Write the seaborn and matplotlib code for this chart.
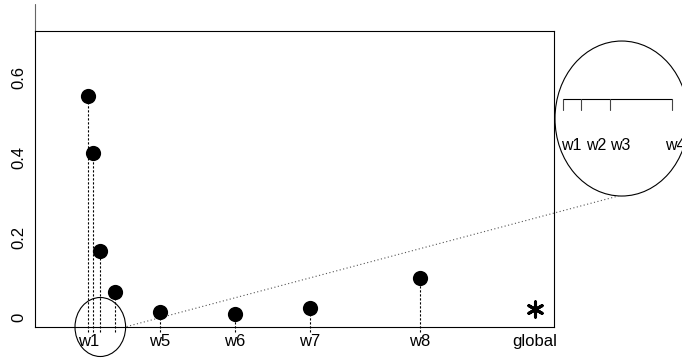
import matplotlib
matplotlib.use("Agg")
import matplotlib.pyplot as plt
from matplotlib.patches import Ellipse
import seaborn as sns
import pandas as pd

# ---- data ----
window_labels = ["w1", "w2", "w3", "w4", "w5", "w6", "w7", "w8"]
window_pos = [53.3, 57.7, 65.0, 80.0, 125.0, 200.0, 275.0, 385.0]
window_vals = [0.553, 0.412, 0.166, 0.062, 0.012, 0.007, 0.022, 0.098]
global_label = "global"
global_pos = 500.0
global_val = 0.021
xtick_labels = ["w1", "w5", "w6", "w7", "w8", "global"]
ytick_vals = [0.0, 0.2, 0.4, 0.6]
inset_labels = ["w1", "w2", "w3", "w4"]
inset_label_x = [536.0, 561.0, 585.5, 640.5]

sns.set_style("white")
plt.rcParams['font.family'] = ['Liberation Sans', 'DejaVu Sans']
plt.rcParams['axes.linewidth'] = 0.8
for k in ["text.color", "axes.labelcolor", "xtick.color", "ytick.color", "axes.edgecolor"]:
    plt.rcParams[k] = "black"

fig = plt.figure(figsize=(6.82, 3.63), dpi=100)
ax = fig.add_axes([35/682, 1-327/363, (554-35)/682, (327-31)/363])

XMIN, XMAX = 0.0, 519.0
YMIN, YMAX = -0.0246, 0.716
ax.set_xlim(XMIN, XMAX)
ax.set_ylim(YMIN, YMAX)

df = pd.DataFrame({"pos": window_pos, "val": window_vals, "lab": window_labels})

# dotted drop lines
ax.vlines(df["pos"], YMIN - 0.012, df["val"], colors="black",
          linestyles=(0, (2, 1.6)), linewidth=0.8, clip_on=False, zorder=2)

sns.scatterplot(data=df, x="pos", y="val", ax=ax, s=120, color="black",
                edgecolor="black", linewidth=0, zorder=3, legend=False)

gdf = pd.DataFrame({"pos": [global_pos], "val": [global_val]})
sns.scatterplot(data=gdf, x="pos", y="val", ax=ax, marker=(6, 2, 0), s=120,
                color="black", edgecolor="black", linewidth=2.2, zorder=3,
                legend=False)

# ticks
xt = [window_pos[0]] + window_pos[4:] + [global_pos]
ax.set_xticks(xt)
ax.set_xticklabels(xtick_labels, fontsize=12)
ax.set_yticks(ytick_vals)
ax.set_yticklabels(["0", "0.2", "0.4", "0.6"], rotation=90, va="center", fontsize=12)
ax.tick_params(axis="both", direction="out", length=4, width=0.8, color="#555555",
               labelcolor="black")
ax.tick_params(axis="x", pad=1)
ax.tick_params(axis="y", pad=2)
ax.set_xlabel("")
ax.set_ylabel("")
for s in ax.spines.values():
    s.set_color("black")
    s.set_linewidth(0.8)

# left axis line extended above box
ax.plot([0, 0], [1, 1.091], transform=ax.transAxes, color="#666666",
        linewidth=0.8, clip_on=False)

# small ellipse around w1..w4
px_y = (YMAX - YMIN) / 296.0  # y data per pixel
small_cx = 65.3
ax.add_patch(Ellipse((small_cx, YMIN), 50.6, 59 * px_y, fill=False,
                     edgecolor="black", linewidth=0.8, clip_on=False, zorder=4))

# large ellipse (magnified view)
big_cx, big_cy = 586.7, 0.497
big_w, big_h = 133.4, 155 * px_y
ax.add_patch(Ellipse((big_cx, big_cy), big_w, big_h, fill=False,
                     edgecolor="black", linewidth=0.8, clip_on=False, zorder=4))

# dotted connector
ax.plot([small_cx + 50.6 / 2 + 1, big_cx - 3.5], [YMIN + 0.001, big_cy - big_h / 2],
        color="#555555", linestyle=(0, (1, 2.2)), linewidth=0.8, clip_on=False)

# inset axis
ins_left, ins_right = 527.7, 636.7
scale = (ins_right - ins_left) / (window_pos[3] - window_pos[0])
ins_x = [ins_left + (p - window_pos[0]) * scale for p in window_pos[:4]]
ins_y = 0.545
tick_y = ins_y - 10.4 * px_y
ax.plot([ins_x[0], ins_x[-1]], [ins_y, ins_y], color="black", linewidth=0.8,
        clip_on=False)
for xx in ins_x:
    ax.plot([xx, xx], [ins_y, tick_y], color="#444444", linewidth=0.8, clip_on=False)
for xx, lab in zip(inset_label_x, inset_labels):
    ax.text(xx, 0.429, lab, ha="center", va="center", fontsize=11.5, clip_on=False)

fig.savefig("out.png", dpi=100)
